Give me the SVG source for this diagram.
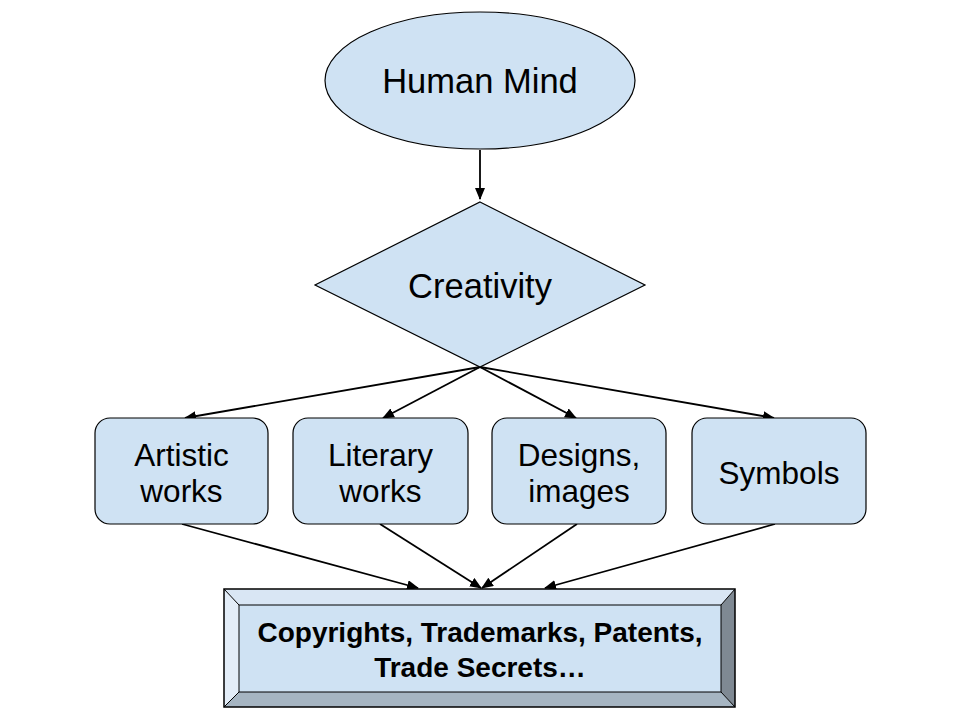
<svg xmlns="http://www.w3.org/2000/svg" width="960" height="720" viewBox="0 0 960 720">
<defs>
<style>
.shape{fill:#cfe2f3;stroke:#000;stroke-width:1.2}
.lbl{font-family:"Liberation Sans",Arial,sans-serif;fill:#000;text-anchor:middle}
.big{font-size:34.5px}
.mid{font-size:31.5px}
.bold{font-size:28px;font-weight:bold}
.conn{stroke:#000;stroke-width:1.8;fill:none;marker-end:url(#ah)}
</style>
<marker id="ah" viewBox="0 0 12 10" refX="11" refY="5" markerWidth="12" markerHeight="10" markerUnits="userSpaceOnUse" orient="auto">
<path d="M0,0 L12,5 L0,10 Z" fill="#000"/>
</marker>
</defs>
<rect width="960" height="720" fill="#fff"/>
<g id="connectors">
<line class="conn" x1="480" y1="150" x2="480" y2="199"/>
<line class="conn" x1="480" y1="367" x2="185" y2="418"/>
<line class="conn" x1="480" y1="367" x2="383" y2="418"/>
<line class="conn" x1="480" y1="367" x2="576" y2="418"/>
<line class="conn" x1="480" y1="367" x2="774" y2="418"/>
<line class="conn" x1="182" y1="524" x2="418" y2="588"/>
<line class="conn" x1="380" y1="524" x2="481" y2="588"/>
<line class="conn" x1="577" y1="524" x2="482" y2="588"/>
<line class="conn" x1="775" y1="524" x2="545" y2="588"/>
</g>
<g id="human-mind">
<ellipse class="shape" cx="480" cy="80.5" rx="155" ry="68.5"/>
<text class="lbl big" x="480" y="93">Human Mind</text>
</g>
<g id="creativity">
<polygon class="shape" points="480,202 645,285 480,367 315,285"/>
<text class="lbl big" x="480" y="298">Creativity</text>
</g>
<g id="artistic">
<rect class="shape" x="95" y="418" width="173" height="106" rx="15"/>
<text class="lbl mid" x="181.5" y="466">Artistic</text>
<text class="lbl mid" x="181.5" y="502">works</text>
</g>
<g id="literary">
<rect class="shape" x="293" y="418" width="175" height="106" rx="15"/>
<text class="lbl mid" x="380.5" y="466">Literary</text>
<text class="lbl mid" x="380.5" y="502">works</text>
</g>
<g id="designs">
<rect class="shape" x="492" y="418" width="174" height="106" rx="15"/>
<text class="lbl mid" x="579" y="466">Designs,</text>
<text class="lbl mid" x="579" y="502">images</text>
</g>
<g id="symbols">
<rect class="shape" x="692" y="418" width="174" height="106" rx="15"/>
<text class="lbl mid" x="779" y="484">Symbols</text>
</g>
<g id="rights">
<polygon points="224,589 735,589 721,605 239,605" fill="#d9e6f4"/>
<polygon points="224,589 239,605 239,692 224,707" fill="#e3edf8"/>
<polygon points="735,589 735,707 721,692 721,605" fill="#7f8993"/>
<polygon points="224,707 239,692 721,692 735,707" fill="#a6b5c2"/>
<rect x="239" y="605" width="482" height="87" fill="#cfe2f3" stroke="#000" stroke-width="1"/>
<g stroke="#000" stroke-width="1">
<line x1="224" y1="589" x2="239" y2="605"/>
<line x1="735" y1="589" x2="721" y2="605"/>
<line x1="224" y1="707" x2="239" y2="692"/>
<line x1="735" y1="707" x2="721" y2="692"/>
</g>
<rect x="224" y="589" width="511" height="118" fill="none" stroke="#000" stroke-width="1.5"/>
<text class="lbl bold" x="480" y="642">Copyrights, Trademarks, Patents,</text>
<text class="lbl bold" x="480" y="677">Trade Secrets…</text>
</g>
</svg>
